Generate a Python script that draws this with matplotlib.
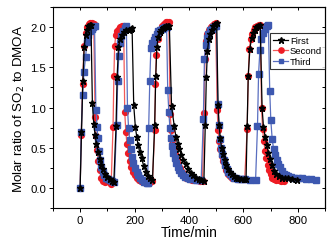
import matplotlib
matplotlib.use("Agg")
import matplotlib.pyplot as plt
from matplotlib.ticker import MultipleLocator

plt.rcParams['font.family'] = ['Liberation Sans', 'DejaVu Sans']

# First run
first_t = [0, 5, 10, 15, 20, 25, 30, 35, 40, 45, 50, 55, 60, 66, 72, 78, 85, 92, 100, 108, 116, 124,
           132, 136, 141, 147, 154, 162, 170, 178, 186, 191, 197, 203, 208, 213, 219, 226, 234, 242, 250, 258, 266,
           274, 278, 282, 287, 292, 298, 304, 310, 316, 322, 328, 336, 346, 352, 358, 365, 372, 380, 389, 398, 407, 416, 426, 436, 446, 455,
           460, 464, 468, 473, 478, 484, 490, 496, 502, 507, 511, 515, 520, 525, 531, 537, 543, 550, 557, 565, 573, 582, 592, 602, 610,
           614, 618, 624, 630, 636, 642, 648, 655, 662, 669, 674, 680, 686, 692, 698, 705, 712, 720, 730, 742, 754, 766, 780, 797]
first_v = [0.0, 0.69, 1.33, 1.75, 1.90, 1.97, 2.01, 2.03, 2.03, 1.06, 0.80, 0.66, 0.55, 0.45, 0.36, 0.29, 0.23, 0.18, 0.14, 0.11, 0.09, 0.08,
           0.77, 1.38, 1.75, 1.85, 1.90, 1.94, 1.96, 1.97, 1.98, 1.99, 1.03, 0.76, 0.64, 0.53, 0.45, 0.37, 0.27, 0.20, 0.15, 0.12, 0.10,
           0.78, 1.39, 1.75, 1.88, 1.94, 1.97, 1.99, 2.00, 2.01, 2.02, 2.02, 1.02, 0.77, 0.64, 0.55, 0.48, 0.41, 0.35, 0.30, 0.24, 0.19, 0.16, 0.13, 0.11, 0.10, 0.09,
           0.78, 1.38, 1.70, 1.85, 1.92, 1.97, 2.01, 2.04, 2.05, 1.03, 0.78, 0.62, 0.50, 0.42, 0.35, 0.29, 0.24, 0.20, 0.17, 0.15, 0.13, 0.12, 0.11, 0.11, 0.11,
           0.77, 1.39, 1.73, 1.86, 1.93, 1.97, 2.00, 2.02, 2.03, 0.99, 0.76, 0.64, 0.53, 0.44, 0.36, 0.28, 0.21, 0.17, 0.15, 0.13, 0.12, 0.12, 0.11, 0.10]

# Second run
second_t = [0, 4, 9, 14, 20, 26, 32, 38, 44, 50, 55, 58, 62, 67, 72, 78, 85, 93, 100, 108, 114,
            121, 124, 127, 131, 136, 142, 148, 154, 160, 164, 168, 172, 177, 182, 188, 194, 200, 208, 216, 224, 232, 240, 248, 256, 266,
            274, 277, 280, 285, 290, 296, 302, 308, 314, 320, 326, 331, 335, 339, 344, 349, 355, 361, 368, 375, 383, 391, 400, 410, 420, 430, 440, 450,
            455, 459, 463, 468, 474, 480, 486, 492, 498, 504, 507, 511, 515, 520, 526, 532, 538, 545, 552, 560, 568, 576, 585, 595, 605,
            614, 618, 622, 627, 632, 638, 644, 650, 656, 662, 667, 671, 675, 680, 685, 690, 695, 700, 706, 712, 720, 730, 740, 748]
second_v = [0.0, 0.66, 1.29, 1.77, 1.93, 2.00, 2.04, 2.05, 2.05, 2.04, 0.88, 0.65, 0.47, 0.33, 0.22, 0.13, 0.09, 0.08, 0.10, 0.07, 0.05,
            0.76, 1.39, 1.77, 1.90, 1.95, 1.98, 2.00, 2.01, 2.01, 0.94, 0.70, 0.55, 0.44, 0.34, 0.26, 0.20, 0.16, 0.13, 0.10, 0.09, 0.08, 0.08, 0.07, 0.08, 0.09,
            0.72, 1.29, 1.65, 1.85, 1.93, 1.98, 2.02, 2.04, 2.06, 2.06, 2.06, 0.92, 0.72, 0.60, 0.50, 0.42, 0.36, 0.30, 0.25, 0.20, 0.16, 0.13, 0.11, 0.10, 0.10, 0.10, 0.09, 0.09,
            0.93, 1.61, 1.83, 1.92, 1.97, 2.00, 2.02, 2.04, 2.05, 0.97, 0.72, 0.58, 0.48, 0.40, 0.33, 0.27, 0.22, 0.18, 0.15, 0.13, 0.12, 0.11, 0.11, 0.11, 0.11,
            0.73, 1.39, 1.73, 1.85, 1.92, 1.97, 2.00, 2.02, 2.03, 2.03, 0.99, 0.73, 0.58, 0.46, 0.37, 0.29, 0.22, 0.17, 0.13, 0.11, 0.10, 0.10, 0.09, 0.09]

# Third run
third_t = [0, 4, 9, 14, 20, 25, 30, 36, 42, 48, 53, 58, 62, 65, 69, 73, 78, 83, 89, 95, 102, 110, 118, 126,
           134, 138, 142, 147, 152, 158, 164, 170, 174, 178, 182, 186, 191, 196, 202, 208, 214, 220, 228, 236, 244, 248,
           252, 256, 260, 265, 270, 276, 282, 288, 294, 300, 306, 312, 318, 322, 326, 330, 334, 338, 343, 348, 353, 358, 364, 370, 378, 386, 395, 405, 415, 425, 435, 445,
           453, 457, 461, 466, 471, 477, 483, 489, 495, 501, 506, 510, 514, 518, 523, 528, 533, 539, 545, 552, 559, 566, 574, 582, 590, 598, 606,
           625, 645, 652, 656, 661, 666, 672, 679, 686, 692, 697, 701, 706, 711, 716, 722, 728, 735, 742, 750, 758, 766, 776, 788, 802, 816, 830, 848, 866]
third_v = [0.0, 0.69, 1.16, 1.44, 1.63, 1.81, 1.90, 1.95, 1.98, 2.00, 2.01, 0.97, 0.76, 0.62, 0.46, 0.35, 0.26, 0.20, 0.16, 0.13, 0.11, 0.10, 0.09, 0.08,
           0.78, 1.33, 1.64, 1.80, 1.89, 1.95, 1.99, 2.01, 1.00, 0.75, 0.60, 0.48, 0.39, 0.31, 0.25, 0.20, 0.16, 0.13, 0.10, 0.08, 0.06, 0.06,
           0.75, 1.33, 1.74, 1.80, 1.84, 1.88, 1.92, 1.95, 1.97, 1.98, 1.99, 2.00, 2.00, 1.22, 0.95, 0.75, 0.62, 0.52, 0.44, 0.37, 0.31, 0.26, 0.22, 0.19, 0.16, 0.14, 0.12, 0.11, 0.11, 0.10, 0.10, 0.10,
           0.86, 1.61, 1.78, 1.87, 1.92, 1.96, 1.98, 2.00, 2.01, 2.02, 1.05, 0.78, 0.61, 0.50, 0.42, 0.35, 0.29, 0.24, 0.20, 0.17, 0.15, 0.13, 0.12, 0.11, 0.11, 0.11, 0.11,
           0.10, 0.10, 0.77, 1.42, 1.72, 1.85, 1.93, 1.98, 2.01, 2.03, 1.21, 0.84, 0.61, 0.49, 0.41, 0.35, 0.30, 0.26, 0.21, 0.18, 0.16, 0.15, 0.14, 0.13, 0.12, 0.12, 0.11, 0.11, 0.10]

fig = plt.figure(figsize=(3.35, 2.51), dpi=100)
ax = fig.add_axes([0.158, 0.167, 0.812, 0.801])

ax.plot(first_t, first_v, color='black', lw=0.9, marker='*', ms=5, mfc='black', mec='black', label='First', zorder=3)
ax.plot(second_t, second_v, color='#f25a5a', lw=0.9, marker='o', ms=4.2, mfc='#ee1c24', mec='#ee1c24', label='Second', zorder=2)
ax.plot(third_t, third_v, color='#5a6fc0', lw=0.9, marker='s', ms=3.8, mfc='#3d58b0', mec='#3d58b0', label='Third', zorder=2.5)

ax.set_xlim(-100, 900)
ax.set_ylim(-0.25, 2.25)
ax.xaxis.set_major_locator(MultipleLocator(200))
ax.xaxis.set_minor_locator(MultipleLocator(100))
ax.yaxis.set_major_locator(MultipleLocator(0.5))
ax.yaxis.set_minor_locator(MultipleLocator(0.25))
ax.tick_params(which='both', direction='out', labelsize=8.2, width=0.7, pad=2)
ax.tick_params(which='major', length=3)
ax.tick_params(which='minor', length=2)

# inward ticks on top and right
axt = ax.secondary_xaxis('top')
axt.xaxis.set_major_locator(MultipleLocator(100))
axt.tick_params(direction='in', length=2.5, width=0.7, labeltop=False)
axr = ax.secondary_yaxis('right')
axr.yaxis.set_major_locator(MultipleLocator(0.25))
axr.tick_params(direction='in', length=2.5, width=0.7, labelright=False)

for s in ax.spines.values():
    s.set_linewidth(0.8)

ax.set_xlabel('Time/min', fontsize=10, labelpad=0)
ax.set_ylabel('Molar ratio of SO$_2$ to DMOA', fontsize=9.6, labelpad=2)

leg = ax.legend(loc='upper right', bbox_to_anchor=(1.0, 0.87), borderaxespad=0, fontsize=6.8,
                frameon=True, fancybox=False, edgecolor='black', handlelength=1.6, handletextpad=0.2,
                labelspacing=0.15, borderpad=0.3, markerscale=0.9)
leg.get_frame().set_linewidth(0.8)

fig.savefig('out.png', dpi=100)
